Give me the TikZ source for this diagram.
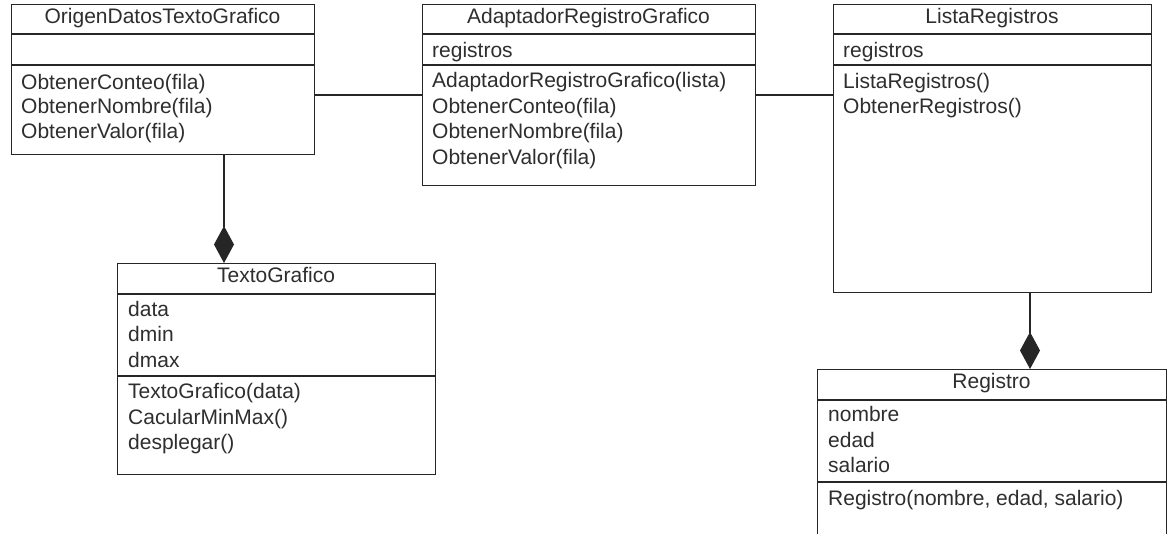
\documentclass[tikz,border=0pt]{standalone}
\usepackage{fontspec}
\setmainfont{Liberation Sans}
\usetikzlibrary{arrows.meta}

\tikzset{
  umlline/.style={draw=black!85, line width=1.2pt},
  classbox/.style={umlline, rectangle, inner sep=0pt, anchor=north west},
  member/.style={inner sep=0pt, anchor=mid west, text=black!82,
    font=\fontsize{21}{25}\selectfont},
  classtitle/.style={member, anchor=mid},
  composition/.style={umlline, -{Diamond[length=37pt 0 0, width=20pt 0 0]}},
}

\begin{document}
\begin{tikzpicture}[x=1pt, y=-1pt]
  \path[use as bounding box] (0,0) rectangle (1173,533);
  \clip (0,0) rectangle (1173,533);
  \fill[white] (0,0) rectangle (1173,533);

  % ---------- OrigenDatosTextoGrafico ----------
  \node[classbox, minimum width=303pt, minimum height=150pt] (origen) at (11,4) {};
  \draw[umlline] ([yshift=-30pt]origen.north west) -- ([yshift=-30pt]origen.north east);
  \draw[umlline] ([yshift=-61pt]origen.north west) -- ([yshift=-61pt]origen.north east);
  \node[classtitle] (origen-t) at (162.5,21) {OrigenDatosTextoGrafico};
  \node[member] (origen-m1) at (21,86.5) {ObtenerConteo(fila)};
  \node[member] (origen-m2) at (21,111) {ObtenerNombre(fila)};
  \node[member] (origen-m3) at (21,135.5) {ObtenerValor(fila)};

  % ---------- AdaptadorRegistroGrafico ----------
  \node[classbox, minimum width=333pt, minimum height=181pt] (adapt) at (422,4) {};
  \draw[umlline] ([yshift=-30pt]adapt.north west) -- ([yshift=-30pt]adapt.north east);
  \draw[umlline] ([yshift=-61pt]adapt.north west) -- ([yshift=-61pt]adapt.north east);
  \node[classtitle] (adapt-t) at (588.5,21) {AdaptadorRegistroGrafico};
  \node[member] (adapt-a1) at (432,54.5) {registros};
  \node[member] (adapt-m1) at (432,85) {AdaptadorRegistroGrafico(lista)};
  \node[member] (adapt-m2) at (432,110.5) {ObtenerConteo(fila)};
  \node[member] (adapt-m3) at (432,136) {ObtenerNombre(fila)};
  \node[member] (adapt-m4) at (432,161.5) {ObtenerValor(fila)};

  % ---------- ListaRegistros ----------
  \node[classbox, minimum width=318pt, minimum height=288pt] (lista) at (833,4) {};
  \draw[umlline] ([yshift=-30pt]lista.north west) -- ([yshift=-30pt]lista.north east);
  \draw[umlline] ([yshift=-61pt]lista.north west) -- ([yshift=-61pt]lista.north east);
  \node[classtitle] (lista-t) at (992,21) {ListaRegistros};
  \node[member] (lista-a1) at (843,54.5) {registros};
  \node[member] (lista-m1) at (843,86) {ListaRegistros()};
  \node[member] (lista-m2) at (843,110.5) {ObtenerRegistros()};

  % ---------- TextoGrafico ----------
  \node[classbox, minimum width=318pt, minimum height=211pt] (textog) at (117,263) {};
  \draw[umlline] ([yshift=-31pt]textog.north west) -- ([yshift=-31pt]textog.north east);
  \draw[umlline] ([yshift=-113pt]textog.north west) -- ([yshift=-113pt]textog.north east);
  \node[classtitle] (textog-t) at (276,280) {TextoGrafico};
  \node[member] (textog-a1) at (128,313.5) {data};
  \node[member] (textog-a2) at (128,339) {dmin};
  \node[member] (textog-a3) at (128,364.5) {dmax};
  \node[member] (textog-m1) at (128,396) {TextoGrafico(data)};
  \node[member] (textog-m2) at (128,421.5) {CacularMinMax()};
  \node[member] (textog-m3) at (128,447) {desplegar()};

  % ---------- Registro ----------
  \node[classbox, minimum width=349pt, minimum height=180pt] (registro) at (817,369) {};
  \draw[umlline] ([yshift=-31pt]registro.north west) -- ([yshift=-31pt]registro.north east);
  \draw[umlline] ([yshift=-113pt]registro.north west) -- ([yshift=-113pt]registro.north east);
  \node[classtitle] (registro-t) at (991.5,386) {Registro};
  \node[member] (registro-a1) at (828,419) {nombre};
  \node[member] (registro-a2) at (828,444.5) {edad};
  \node[member] (registro-a3) at (828,470) {salario};
  \node[member] (registro-m1) at (828,503) {Registro(nombre, edad, salario)};

  % ---------- associations ----------
  \coordinate (assocy) at (0,95);
  \draw[umlline] (origen.east |- assocy) -- (adapt.west |- assocy);
  \draw[umlline] (adapt.east |- assocy) -- (lista.west |- assocy);

  % ---------- compositions ----------
  \coordinate (compA) at (224,0);
  \coordinate (compB) at (1030,0);
  \draw[composition] (origen.south -| compA) -- (textog.north -| compA);
  \draw[composition] (lista.south -| compB) -- (registro.north -| compB);
\end{tikzpicture}
\end{document}
